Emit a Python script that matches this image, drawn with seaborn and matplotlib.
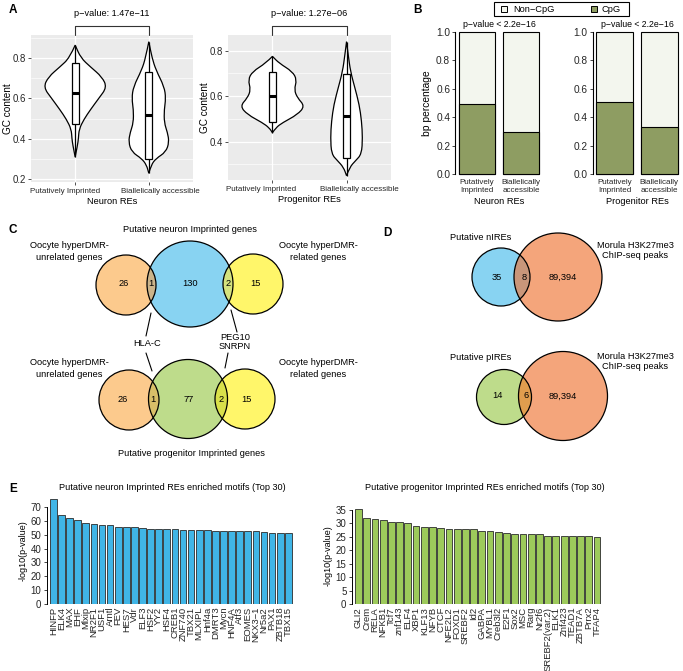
import matplotlib
matplotlib.use("Agg")
import matplotlib.pyplot as plt
from matplotlib.patches import Circle, Rectangle, PathPatch
from matplotlib.path import Path
from matplotlib.transforms import ScaledTranslation
import numpy as np
import pandas as pd
import seaborn as sns

# ---- panel A: violin outlines (GC level, half width in category units)
re_groups = ["Putatively Imprinted", "Biallelically accessible"]
n_imp_gc = [0.31, 0.368, 0.40, 0.448, 0.497, 0.545, 0.60, 0.655, 0.706, 0.755, 0.80, 0.863]
n_imp_hw = [0, 0.031, 0.044, 0.053, 0.12, 0.209, 0.32, 0.431, 0.364, 0.209, 0.076, 0]
n_bia_gc = [0.23, 0.271, 0.303, 0.335, 0.384, 0.432, 0.48, 0.545, 0.60, 0.658, 0.739, 0.80, 0.88]
n_bia_hw = [0, 0.031, 0.098, 0.231, 0.276, 0.253, 0.209, 0.209, 0.231, 0.209, 0.098, 0.044, 0]
p_imp_gc = [0.439, 0.461, 0.483, 0.519, 0.556, 0.592, 0.628, 0.672, 0.708, 0.745, 0.775]
p_imp_hw = [0, 0.045, 0.135, 0.338, 0.437, 0.338, 0.293, 0.329, 0.27, 0.09, 0]
p_bia_gc = [0.25, 0.287, 0.316, 0.345, 0.417, 0.49, 0.563, 0.636, 0.708, 0.78, 0.84]
p_bia_hw = [0, 0.041, 0.122, 0.203, 0.216, 0.203, 0.171, 0.113, 0.054, 0.023, 0]
n_q1 = [0.473, 0.303]
n_med = [0.626, 0.518]
n_q3 = [0.776, 0.731]
p_q1 = [0.487, 0.33]
p_med = [0.60, 0.512]
p_q3 = [0.705, 0.697]
n_pval = "1.47e\u221211"
p_pval = "1.27e\u221206"

# ---- panel B
cpg_groups = ["Putatively\nImprinted", "Biallelically\naccessible"]
neuron_cpg = [0.495, 0.295]
progenitor_cpg = [0.505, 0.332]

# ---- panel C / D venn counts
venn_neuron = [26, 1, 130, 2, 15]
venn_progenitor = [26, 1, 77, 2, 15]
venn_nire = [35, 8, 89394]
venn_pire = [14, 6, 89394]

# ---- panel E
neuron_motifs = ["HINFP", "ELK4", "MAX", "EHF", "Mlxip", "NR2F1", "USF1", "Arntl", "FEV", "HES7",
                 "Vdr", "ELF3", "HSF2", "YY2", "HSF4", "CREB1", "ZNF740", "TBX21", "MLXIPL", "Hnf4a",
                 "DMRT3", "Mycn", "HNF4A", "Atf3", "EOMES", "NKX3\u22121", "Nr5a2", "PAX1", "ZBTB18", "TBX15"]
neuron_logp = [76.0, 64.3, 62.4, 60.6, 58.6, 57.6, 57.3, 57.0, 55.9, 55.6,
               55.3, 54.6, 54.4, 54.3, 54.0, 53.8, 53.7, 53.6, 53.5, 53.1,
               53.0, 52.9, 52.8, 52.7, 52.6, 52.5, 52.0, 51.3, 51.2, 51.1]
prog_motifs = ["GLI2", "Crem", "RELA", "NFKB1", "Tcf7", "znf143", "ELF4", "XBP1", "KLF13", "NFYB",
               "CTCF", "NFE2L2", "FOXD1", "SREBF2", "Id2", "GABPA", "MYBL1", "Creb3l2", "E2F1", "Sox2",
               "MSC", "Rarg", "Nr2f6", "SREBF2(var.2)", "ELK1", "Znf423", "TEAD1", "ZBTB7A", "Prrx2", "TFAP4"]
prog_logp = [35.4, 32.2, 31.6, 31.1, 30.7, 30.6, 30.1, 29.2, 28.7, 28.6,
             28.3, 28.1, 28.1, 27.8, 27.8, 27.1, 27.1, 26.9, 26.4, 26.1,
             26.0, 26.0, 25.9, 25.5, 25.5, 25.4, 25.4, 25.2, 25.2, 25.0]

W, H = 683, 671
sns.set_theme(style="white")
plt.rcParams["font.family"] = ["Liberation Sans", "DejaVu Sans"]
plt.rcParams["text.color"] = "black"
plt.rcParams["axes.labelcolor"] = "black"

fig = plt.figure(figsize=(W / 100, H / 100), dpi=100)


def px_axes(x0, y0, x1, y1):
    return fig.add_axes([x0 / W, 1 - y1 / H, (x1 - x0) / W, (y1 - y0) / H])


def smooth_half(pts):
    # quadratic bezier through segment midpoints, keeping both end points
    verts = [pts[0]]
    codes = [Path.MOVETO]
    for k in range(1, len(pts) - 1):
        mid = ((pts[k][0] + pts[k + 1][0]) / 2, (pts[k][1] + pts[k + 1][1]) / 2)
        verts += [pts[k], mid]
        codes += [Path.CURVE3, Path.CURVE3]
    verts.append(pts[-1])
    codes.append(Path.LINETO)
    return verts, codes


def violin_path(pos, gc, hw):
    right = [(pos + w, g) for g, w in zip(gc, hw)]
    left = [(pos - w, g) for g, w in zip(gc[::-1], hw[::-1])]
    v1, c1 = smooth_half(right)
    v2, c2 = smooth_half(left)
    c2[0] = Path.LINETO
    return Path(v1 + v2 + [v1[0]], c1 + c2 + [Path.CLOSEPOLY])


def violin_panel(ax, profiles, q1, med, q3, ylim, pval, xlabel, label_shift):
    ax.set_facecolor("#EBEBEB")
    ax.set_xlim(-0.6, 1.6)
    ax.set_ylim(*ylim)
    ax.set_xticks([0, 1])
    ax.set_xticklabels(re_groups, fontsize=5.8)
    ax.set_yticks([v for v in [0.2, 0.4, 0.6, 0.8] if ylim[0] <= v <= ylim[1]])
    ax.set_yticks([v for v in [0.3, 0.5, 0.7, 0.9] if ylim[0] <= v <= ylim[1]], minor=True)
    ax.grid(True, which="major", color="white", lw=0.9)
    ax.grid(True, which="minor", axis="y", color="white", lw=0.45)
    ax.set_axisbelow(True)
    for s in ax.spines.values():
        s.set_visible(False)
    ax.tick_params(which="major", length=2.5, width=0.6, color="#333333", labelsize=6.9, pad=1,
                   left=True, bottom=True)
    ax.tick_params(axis="x", labelsize=5.8, pad=1.5)
    ax.tick_params(which="minor", length=0)
    for lab, dx in zip(ax.get_xticklabels(), label_shift):
        lab.set_transform(lab.get_transform() + ScaledTranslation(dx / 100, 0, fig.dpi_scale_trans))
    for i, (gc, hw) in enumerate(profiles):
        ax.add_patch(PathPatch(violin_path(i, gc, hw), fc="white", ec="black", lw=0.9, zorder=3))
        ax.vlines(i, gc[0], gc[-1], color="black", lw=0.9, zorder=3)
        ax.add_patch(Rectangle((i - 0.049, q1[i]), 0.098, q3[i] - q1[i], fc="white", ec="black",
                               lw=0.9, zorder=4))
        ax.hlines(med[i], i - 0.049, i + 0.049, color="black", lw=2.2, zorder=5)
    ax.set_xlabel(xlabel, fontsize=6.7, labelpad=2)
    ax.set_ylabel("GC content", fontsize=7.2, labelpad=0)
    tr = ax.get_xaxis_transform()
    ax.plot([0, 0, 1, 1], [1.0, 1.062, 1.062, 1.0], color="#333333", lw=0.8, transform=tr, clip_on=False)
    ax.text(0.5, 1.145, "p\u2212value: " + pval, transform=tr, ha="center", va="center", fontsize=6.6)


# ---- A
axA1 = px_axes(31, 35, 193, 182)
violin_panel(axA1, [(n_imp_gc, n_imp_hw), (n_bia_gc, n_bia_hw)], n_q1, n_med, n_q3,
             (0.187, 0.913), n_pval, "Neuron REs", (-10, 12))
axA2 = px_axes(228, 35, 391, 180)
violin_panel(axA2, [(p_imp_gc, p_imp_hw), (p_bia_gc, p_bia_hw)], p_q1, p_med, p_q3,
             (0.231, 0.869), p_pval, "Progenitor REs", (-11, 13))

# ---- B
cpg_col = "#8E9D62"
non_col = "#F3F6EE"


def cpg_panel(ax, cpg, xlabel, ylabel):
    df = pd.DataFrame({"group": cpg_groups, "total": [1.0] * len(cpg), "cpg": cpg})
    sns.barplot(data=df, x="group", y="total", color=non_col, saturation=1, edgecolor="black",
                linewidth=0.8, width=0.84, ax=ax)
    sns.barplot(data=df, x="group", y="cpg", color=cpg_col, saturation=1, edgecolor="black",
                linewidth=0.8, width=0.84, ax=ax)
    for p in ax.patches:
        p.set_clip_on(False)
    ax.set_xlim(-0.5, 1.5)
    ax.set_ylim(0, 1)
    ax.set_yticks([0, 0.2, 0.4, 0.6, 0.8, 1.0])
    ax.set_yticklabels(["0.0", "0.2", "0.4", "0.6", "0.8", "1.0"])
    ax.set_xticks([0, 1])
    ax.set_xticklabels(cpg_groups, linespacing=1.15)
    for s in ["top", "right", "bottom"]:
        ax.spines[s].set_visible(False)
    ax.spines["left"].set_linewidth(0.8)
    ax.spines["left"].set_color("black")
    ax.tick_params(axis="y", left=True, length=2.5, width=0.6, labelsize=7.3, pad=1)
    ax.tick_params(axis="x", length=0, labelsize=5.8, pad=3.5)
    ax.set_xlabel(xlabel, fontsize=6.7, labelpad=2.5)
    ax.set_ylabel(ylabel, fontsize=7.4, labelpad=3)
    ax.text(0.5, 1.055, "p\u2212value < 2.2e\u221216", transform=ax.transAxes, ha="center",
            va="center", fontsize=6.3)


axB1 = px_axes(455, 32, 543, 174)
cpg_panel(axB1, neuron_cpg, "Neuron REs", "bp percentage")
axB2 = px_axes(592.5, 32, 681.5, 174)
cpg_panel(axB2, progenitor_cpg, "Progenitor REs", "")


# ---- E
def motif_panel(ax, motifs, vals, color, ymax, ytop):
    sns.barplot(x=motifs, y=vals, color=color, saturation=1, edgecolor="#2b2b2b", linewidth=0.6,
                width=0.83, ax=ax)
    ax.set_xlim(-0.79, 29.79)
    ax.set_ylim(0, ymax)
    ax.set_yticks(np.arange(0, ytop + 1, 10 if ytop > 40 else 5))
    for s in ["top", "right", "bottom"]:
        ax.spines[s].set_visible(False)
    ax.spines["left"].set_bounds(0, ytop)
    ax.spines["left"].set_linewidth(0.7)
    ax.spines["left"].set_color("black")
    ax.tick_params(axis="y", left=True, length=2.5, width=0.6, labelsize=7, pad=1.5)
    ax.tick_params(axis="x", length=0, labelsize=6.8, pad=2, rotation=90)
    ax.set_ylabel("-log10(p-value)", fontsize=6.5, labelpad=2)


axE1 = px_axes(47, 497.3, 294.7, 604)
motif_panel(axE1, neuron_motifs, neuron_logp, "#40B5E6", 77, 70)
axE2 = px_axes(352, 507.3, 603.5, 604)
motif_panel(axE2, prog_motifs, prog_logp, "#9DCA5B", 36, 35)

# ---- overlay for venns, labels and legend (pixel coordinates)
ov = fig.add_axes([0, 0, 1, 1])
ov.set_xlim(0, W)
ov.set_ylim(H, 0)
ov.set_axis_off()


def t(x, y, s, size=6.7, **kw):
    ov.text(x, y, s, ha=kw.pop("ha", "center"), va="center", fontsize=size, **kw)


def venn(circles, lenses, counts, count_x, y):
    for cx, cy, r, col in circles:
        ov.add_patch(Circle((cx, cy), r, fc=col, ec="none", zorder=2))
    for i, j, col in lenses:
        a = circles[i]
        b = circles[j]
        lens = Circle((a[0], a[1]), a[2], fc=col, ec="none", zorder=3)
        ov.add_patch(lens)
        lens.set_clip_path(Circle((b[0], b[1]), b[2], transform=ov.transData))
    for cx, cy, r, col in circles:
        ov.add_patch(Circle((cx, cy), r, fill=False, ec="black", lw=0.9, zorder=4))
    for n, x in zip(counts, count_x):
        ov.text(x, y, f"{n:,}", ha="center", va="center", fontsize=6.7, zorder=5)


orange, blue, yellow, green, salmon = "#FCCA8D", "#88D3F2", "#FFF66A", "#BEDC8B", "#F4A57B"

# C top
venn([(126, 285, 30, orange), (190, 284, 43, blue), (253, 284, 30, yellow)],
     [(0, 1, "#CBB48A"), (2, 1, "#D5E27E")], venn_neuron, [124, 151, 190, 228, 255], 284)
# C bottom
venn([(129, 400, 30, orange), (188, 399, 39.5, green), (245, 399, 30, yellow)],
     [(0, 1, "#D8BE68"), (2, 1, "#D9E04A")], venn_progenitor, [123, 153, 189, 221, 246], 399)
t(190, 229, "Putative neuron Imprinted genes")
t(191, 453, "Putative progenitor Imprinted genes")
for yy in (251.5, 368.5):
    t(69, yy, "Oocyte hyperDMR-\nunrelated genes", linespacing=1.3)
    t(318, yy, "Oocyte hyperDMR-\nrelated genes", linespacing=1.3)
ov.plot([151, 146], [313, 336], color="black", lw=0.8)
ov.plot([146, 152], [353, 371], color="black", lw=0.8)
t(147, 344, "HLA-C")
ov.plot([231, 237], [310, 332], color="black", lw=0.8)
ov.plot([228, 225], [353, 368], color="black", lw=0.8)
t(235, 342, "PEG10\nSNRPN", linespacing=1.1)

# D
venn([(501, 277, 29, blue), (558, 277, 44, salmon)], [(0, 1, "#C9967A")], venn_nire,
     [497, 524, 563], 277)
venn([(504, 397, 27.5, green), (563, 396, 44.5, salmon)], [(0, 1, "#E09D4E")], venn_pire,
     [497, 526, 563], 396)
t(481, 237, "Putative nIREs")
t(481, 358, "Putative pIREs")
t(635, 250.5, "Morula H3K27me3\nChIP-seq peaks", linespacing=1.05)
t(635, 361.5, "Morula H3K27me3\nChIP-seq peaks", linespacing=1.05)

# E titles
t(172, 488, "Putative neuron Imprinted REs enriched motifs (Top 30)", size=6.6)
t(485, 488, "Putative progenitor Imprinted REs enriched motifs (Top 30)", size=6.6)

# B legend
ov.add_patch(Rectangle((494, 2), 135, 14, fill=False, ec="black", lw=0.8))
ov.add_patch(Rectangle((501, 6), 6, 6, fc=non_col, ec="black", lw=0.7))
t(513, 9, "Non\u2212CpG", ha="left")
ov.add_patch(Rectangle((591, 6), 6, 6, fc=cpg_col, ec="black", lw=0.7))
t(602, 9, "CpG", ha="left")

# panel letters
for lab, x, y in [("A", 13, 10), ("B", 418, 10), ("C", 13, 230), ("D", 387, 233), ("E", 13, 489)]:
    t(x, y, lab, size=8.5, weight="bold")

fig.savefig("out.png", dpi=100)
